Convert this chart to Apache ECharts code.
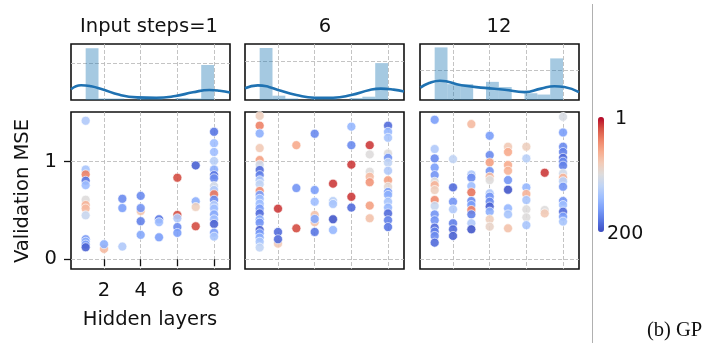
<!DOCTYPE html>
<html>
<head>
<meta charset="utf-8">
<script src="https://cdn.jsdelivr.net/npm/echarts@6/dist/echarts.min.js"></script>
<style>
  html, body { margin: 0; padding: 0; background: #fff; }
  #chart { width: 720px; height: 355px; }
</style>
</head>
<body>
<div id="chart"></div>
<script>
// ---- labels and ticks ----
const panelTitles = ['Input steps=1', '6', '12'];
const xTicks = [2, 4, 6, 8];
const yTicks = [0, 1];
const rankRange = [1, 200];

// ---- marginal histograms (density per bin, 10 bins over 1..8) ----
const binEdges = [1, 1.7, 2.4, 3.1, 3.8, 4.5, 5.2, 5.9, 6.6, 7.3, 8];
const hist1 = [0.70, 0.02, 0.02, 0, 0.025, 0.02, 0, 0.025, 0.02, 0.473];
const hist2 = [0.675, 0.056, 0.02, 0, 0.02, 0.02, 0, 0.025, 0.043, 0.479];
const hist3 = [0.435, 0.131, 0.131, 0, 0.150, 0.107, 0, 0.056, 0.045, 0.344];
const histTop = [0.757, 0.727, 0.463];
const histGridValue = [0.5, 0.5, 0.25];

// ---- kernel density curves ----
const kdeX1 = [0.2, 0.75, 1.3, 1.9, 2.85, 3.8, 4.85, 5.9, 6.85, 7.75, 8.3, 8.87];
const kdeY1 = [0.145, 0.20, 0.185, 0.145, 0.07, 0.036, 0.03, 0.054, 0.104, 0.135, 0.125, 0.10];
const kdeX2 = [0.2, 0.9, 1.5, 2, 3, 4, 5, 6, 7, 7.6, 8.3, 8.87];
const kdeY2 = [0.152, 0.19, 0.17, 0.13, 0.065, 0.03, 0.03, 0.065, 0.13, 0.148, 0.135, 0.109];
const kdeX3 = [0.22, 0.7, 1.29, 2.46, 3.73, 4.82, 5.9, 6.8, 7.53, 8.07, 8.87];
const kdeY3 = [0.102, 0.14, 0.159, 0.122, 0.10, 0.085, 0.065, 0.094, 0.114, 0.108, 0.065];

// ---- trials: hidden layers, validation MSE, rank ----
const layers1 = [1,1,1,1,1,1,1,1,1,1,1,1,1, 2,2, 3,3,3, 4,4,4,4,4, 5,5,5, 6,6,6,6,6, 7,7,7,7,
                 8,8,8,8,8,8,8,8,8,8,8,8,8,8,8,8,8,8];
const mse1 = [1.42,0.92,0.87,0.805,0.76,0.61,0.556,0.52,0.45,0.205,0.18,0.15,0.123,
              0.106,0.154, 0.62,0.525,0.13, 0.495,0.65,0.525,0.39,0.25, 0.41,0.38,0.225,
              0.836,0.454,0.42,0.33,0.27, 0.962,0.594,0.536,0.338,
              1.307,1.19,1.10,1.007,0.92,0.863,0.83,0.75,0.71,0.666,0.61,0.556,0.52,0.46,0.41,0.362,0.273,0.232];
const rank1 = [130,135,40,180,140,100,65,70,115,165,150,160,190,
               70,150, 170,160,130, 75,170,165,175,155, 180,140,160,
               20,20,130,170,160, 190,150,85,20,
               180,140,140,125,150,180,170,110,130,35,170,130,140,155,140,190,160,135];

const layers2 = [1,1,1,1,1,1,1,1,1,1,1,1,1,1,1,1,1,1,1,1,1,1,1, 2,2,2,2, 3,3,3,
                 4,4,4,4,4,4,4, 5,5,5,5,5, 6,6,6,6,6, 7,7,7,7,7,7,7,
                 8,8,8,8,8,8,8,8,8,8,8,8,8,8,8,8];
const mse2 = [1.47,1.37,1.29,1.14,1.017,0.97,0.915,0.863,0.81,0.77,0.70,0.66,0.62,0.57,0.52,0.47,0.41,0.375,0.30,0.266,0.222,0.18,0.12,
              0.16,0.519,0.28,0.205, 1.17,0.73,0.317,
              1.287,0.71,0.59,0.454,0.38,0.413,0.28, 0.775,0.597,0.567,0.41,0.30,
              1.36,1.17,0.97,0.64,0.53, 1.17,1.075,0.898,0.846,0.79,0.55,0.42,
              1.37,1.307,1.246,1.085,1.04,0.99,0.908,0.81,0.744,0.69,0.66,0.59,0.53,0.47,0.40,0.33];
const rank2 = [85,40,150,80,55,110,185,175,130,120,45,160,140,140,160,185,150,165,190,160,150,135,120,
               80,15,185,185, 60,165,20,
               170,160,140,75,75,155,180, 15,125,135,195,145,
               145,170,15,15,185, 15,100,100,70,50,55,75,
               185,145,135,100,165,120,130,55,95,160,150,135,145,185,175,180];

const layers3 = [1,1,1,1,1,1,1,1,1,1,1,1,1,1,1,1, 2,2,2,2,2,2,2, 3,3,3,3,3,3,3,3,3,3,3,
                 4,4,4,4,4,4,4,4,4,4,4,4,4, 5,5,5,5,5,5,5,5,5, 6,6,6,6,6,6,6,6, 7,7,7,
                 8,8,8,8,8,8,8,8,8,8,8,8,8,8,8,8];
const mse3 = [1.43,1.13,1.034,0.94,0.863,0.795,0.76,0.71,0.607,0.546,0.46,0.40,0.324,0.283,0.239,0.17,
              1.027,0.737,0.59,0.512,0.369,0.307,0.239,
              1.386,0.87,0.836,0.75,0.686,0.597,0.556,0.505,0.46,0.369,0.307,
              1.266,1.068,0.993,0.904,0.846,0.812,0.676,0.642,0.59,0.54,0.488,0.41,0.334,
              1.154,1.10,0.966,0.908,0.812,0.713,0.522,0.46,0.317,
              1.154,1.034,0.737,0.669,0.607,0.512,0.43,0.35,
              0.887,0.505,0.47,
              1.46,1.30,1.154,1.10,1.04,1.0,0.96,0.88,0.836,0.80,0.744,0.597,0.556,0.488,0.437,0.386];
const rank3 = [160,130,170,160,165,100,65,85,45,115,165,165,185,175,170,185,
               120,185,165,130,175,185,190,
               70,130,170,140,35,170,160,40,175,130,195,
               160,170,55,165,70,100,130,165,170,190,150,85,90,
               80,60,60,65,165,195,145,135,75,
               85,125,145,65,135,100,100,135,
               15,100,80,
               105,160,170,175,185,170,175,110,65,125,165,165,140,185,160,135];

// ---- drawing ----
const FONT = 'DejaVu Sans';
const panelLeft = [71, 245, 420];
const panelWidth = 159;
const histTopPx = 44, histHeight = 56;
const scatTopPx = 112, scatHeight = 157;
const xRange = [0.2, 8.87];
const yRange = [-0.1, 1.51];

const panels = [
  { hist: hist1, kx: kdeX1, ky: kdeY1, lx: layers1, my: mse1, rk: rank1 },
  { hist: hist2, kx: kdeX2, ky: kdeY2, lx: layers2, my: mse2, rk: rank2 },
  { hist: hist3, kx: kdeX3, ky: kdeY3, lx: layers3, my: mse3, rk: rank3 }
];

const gridLine = { show: true, lineStyle: { color: '#bdbdbd', width: 0.9, type: [4, 2] } };
const coolwarmRedToBlue = ['#b40426', '#d65244', '#ee8468', '#f7ac8e', '#f2cbb7', '#dddcdc',
                           '#c0d4f5', '#9ebeff', '#7b9ff9', '#5977e3', '#3b4cc0'];

const grids = [], xAxes = [], yAxes = [], series = [], scatterIdx = [];

panels.forEach((p, i) => {
  const left = panelLeft[i];
  const frame = { show: true, borderColor: '#111', borderWidth: 1.6, backgroundColor: '#fff' };
  grids.push(Object.assign({ left: left, top: histTopPx, width: panelWidth, height: histHeight }, frame));
  grids.push(Object.assign({ left: left, top: scatTopPx, width: panelWidth, height: scatHeight }, frame));
  const first = i === 0;

  // histogram axes
  xAxes.push({
    type: 'value', gridIndex: 2 * i, min: xRange[0], max: xRange[1],
    axisLine: { show: false }, axisLabel: { show: false },
    axisTick: { show: false, customValues: xTicks }, splitLine: gridLine
  });
  yAxes.push({
    type: 'value', gridIndex: 2 * i, min: 0, max: histTop[i],
    axisLine: { show: false }, axisLabel: { show: false },
    axisTick: { show: false, customValues: [histGridValue[i]] }, splitLine: gridLine
  });
  // scatter axes
  xAxes.push({
    type: 'value', gridIndex: 2 * i + 1, min: xRange[0], max: xRange[1],
    axisLine: { show: false },
    axisLabel: { show: first, customValues: xTicks, fontFamily: FONT, fontSize: 19.5, color: '#111', margin: 12 },
    axisTick: { show: first, customValues: xTicks, length: 7, inside: false, lineStyle: { color: '#111', width: 1.3 } },
    splitLine: gridLine
  });
  yAxes.push({
    type: 'value', gridIndex: 2 * i + 1, min: yRange[0], max: yRange[1],
    axisLine: { show: false },
    axisLabel: { show: first, customValues: yTicks, fontFamily: FONT, fontSize: 19.5, color: '#111', margin: 14 },
    axisTick: { show: first, customValues: yTicks, length: 7, inside: false, lineStyle: { color: '#111', width: 1.3 } },
    splitLine: gridLine
  });

  // histogram bars from bin edges
  const bars = p.hist.map((h, k) => [binEdges[k], binEdges[k + 1], h]);
  series.push({
    type: 'custom', xAxisIndex: 2 * i, yAxisIndex: 2 * i, silent: true,
    encode: { x: [0, 1], y: 2 },
    data: bars,
    renderItem: (params, api) => {
      const a = api.coord([api.value(0), api.value(2)]);
      const b = api.coord([api.value(1), 0]);
      return { type: 'rect', shape: { x: a[0], y: a[1], width: b[0] - a[0], height: b[1] - a[1] },
               style: { fill: 'rgba(31,119,180,0.4)' } };
    },
    z: 2
  });
  // density curve
  series.push({
    type: 'line', xAxisIndex: 2 * i, yAxisIndex: 2 * i, silent: true,
    data: p.kx.map((x, k) => [x, p.ky[k]]),
    smooth: 0.5, showSymbol: false, clip: true,
    lineStyle: { color: '#1f72b2', width: 2.6 }, z: 3
  });
  // trials
  scatterIdx.push(series.length);
  series.push({
    type: 'scatter', xAxisIndex: 2 * i + 1, yAxisIndex: 2 * i + 1, silent: true,
    data: p.lx.map((x, k) => [x, p.my[k], p.rk[k]]),
    symbolSize: 9,
    itemStyle: { borderColor: '#ffffff', borderWidth: 0.7, opacity: 0.9 },
    z: 3
  });
});

const titleText = (txt, cx) => ({
  type: 'text', x: cx, y: 27,
  style: { text: txt, fontFamily: FONT, fontSize: 19.5, fill: '#111', align: 'center', verticalAlign: 'middle' }
});

const option = {
  backgroundColor: '#fff',
  animation: false,
  grid: grids,
  xAxis: xAxes,
  yAxis: yAxes,
  visualMap: {
    type: 'continuous', min: rankRange[0], max: rankRange[1], dimension: 2,
    seriesIndex: scatterIdx, inverse: true, orient: 'vertical', calculable: false,
    itemWidth: 6, itemHeight: 115, left: 598, top: 117, padding: 0,
    hoverLink: false,
    inRange: { color: coolwarmRedToBlue }
  },
  series: series,
  graphic: [
    titleText(panelTitles[0], 149),
    titleText(panelTitles[1], 325),
    titleText(panelTitles[2], 499),
    { type: 'text', x: 23, y: 191, rotation: Math.PI / 2,
      style: { text: 'Validation MSE', fontFamily: FONT, fontSize: 19.5, fill: '#111', align: 'center', verticalAlign: 'middle' } },
    { type: 'text', x: 150, y: 320,
      style: { text: 'Hidden layers', fontFamily: FONT, fontSize: 19.5, fill: '#111', align: 'center', verticalAlign: 'middle' } },
    { type: 'text', x: 615, y: 119,
      style: { text: String(rankRange[0]), fontFamily: FONT, fontSize: 19, fill: '#111', align: 'left', verticalAlign: 'middle' } },
    { type: 'text', x: 607, y: 234,
      style: { text: String(rankRange[1]), fontFamily: FONT, fontSize: 19, fill: '#111', align: 'left', verticalAlign: 'middle' } },
    { type: 'line', shape: { x1: 592.5, y1: 4, x2: 592.5, y2: 343 },
      style: { stroke: '#b0b0b0', lineWidth: 1 } },
    { type: 'text', x: 647, y: 331,
      style: { text: '(b) GP', fontFamily: 'Liberation Serif', fontSize: 20.5, fill: '#111', align: 'left', verticalAlign: 'middle' } }
  ]
};

const chart = echarts.init(document.getElementById('chart'), null, { renderer: 'canvas' });
chart.setOption(option);
</script>
</body>
</html>
